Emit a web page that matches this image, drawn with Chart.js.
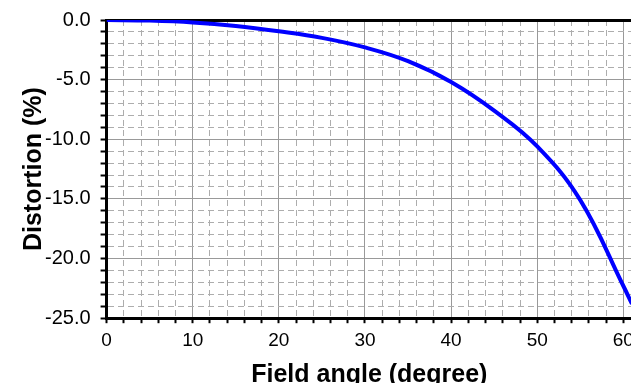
<!DOCTYPE html>
<html>
<head>
<meta charset="utf-8">
<script src="https://cdn.jsdelivr.net/npm/chart.js@4"></script>
<style>
  html, body { margin: 0; padding: 0; background: #fff; overflow: hidden; }
  #wrap { position: absolute; left: 0; top: 0; width: 640px; height: 396px; }
</style>
</head>
<body>
<div id="wrap"><canvas id="distortion_chart" width="640" height="396"></canvas></div>
<script>
    "use strict"

    // field angle (degree) and distortion (%)
    var fieldAngle = [0, 5, 10, 15, 20, 25, 30, 35, 40, 45, 50, 55, 60, 61];
    var distortion = [0, -0.05, -0.2, -0.5, -0.95, -1.5, -2.3, -3.45, -5.2, -7.6, -10.6, -15.1, -22.3, -23.8];

    var xTickLabels = ['0', '10', '20', '30', '40', '50', '60'];
    var yTickLabels = ['0.0', '-5.0', '-10.0', '-15.0', '-20.0', '-25.0'];

    var points = fieldAngle.map(function(a, i){
        return { x: a, y: distortion[i] };
    });

    var isMajorX = function(v){ return xTickLabels.indexOf(String(v)) > -1; };
    var isMajorY = function(v){ return yTickLabels.indexOf(v.toFixed(1)) > -1; };

    var gridColor = function(major){
        return function(ctx){
            if(!ctx.tick) return '#000';
            return major(ctx.tick.value) ? '#999999' : '#adadad';
        };
    };
    var gridDash = function(major){
        return function(ctx){
            if(!ctx.tick) return [];
            return major(ctx.tick.value) ? [] : [6, 4];
        };
    };

    const distortion_chart = document.getElementById("distortion_chart").getContext('2d');
    new Chart(distortion_chart, {
        type: 'line',
        data: {
            datasets: [{
                data: points,
                borderColor: '#0000ff',
                borderWidth: 4,
                pointRadius: 0,
                fill: false,
                tension: 0.4
            }]
        },
        options: {
            responsive: false,
            animation: false,
            layout: { padding: { left: 10, right: 4, top: 3, bottom: 6 } },
            plugins: { legend: { display: false }, tooltip: { enabled: false } },
            scales: {
                x: {
                    type: 'linear',
                    min: 0,
                    max: 61,
                    afterBuildTicks: function(scale){
                        scale.ticks = scale.ticks.filter(function(t){ return t.value % 2 === 0; });
                    },
                    ticks: {
                        stepSize: 2,
                        includeBounds: false,
                        autoSkip: false,
                        maxRotation: 0,
                        padding: 6,
                        color: '#000',
                        font: { family: 'Liberation Sans, Arial', size: 19 },
                        callback: function(v){ return isMajorX(v) ? String(v) : ''; }
                    },
                    grid: {
                        color: gridColor(isMajorX),
                        lineWidth: 1,
                        tickLength: 5,
                        tickColor: '#000',
                        tickWidth: 2
                    },
                    border: { color: '#000', width: 3, dash: gridDash(isMajorX) },
                    title: {
                        display: true,
                        text: 'Field angle (degree)',
                        color: '#000',
                        font: { family: 'Liberation Sans, Arial', size: 25, weight: 'bold' },
                        padding: { top: 2, bottom: 0 }
                    }
                },
                y: {
                    min: -25,
                    max: 0,
                    ticks: {
                        stepSize: 1,
                        autoSkip: false,
                        padding: 10,
                        color: '#000',
                        font: { family: 'Liberation Sans, Arial', size: 20, lineHeight: 1 },
                        callback: function(v){ return isMajorY(v) ? v.toFixed(1) : ''; }
                    },
                    grid: {
                        color: function(ctx){
                            if(ctx.tick && ctx.tick.value === 0) return '#000';
                            return gridColor(isMajorY)(ctx);
                        },
                        lineWidth: function(ctx){
                            return (ctx.tick && ctx.tick.value === 0) ? 3 : 1;
                        },
                        tickLength: 6,
                        tickColor: '#000',
                        tickWidth: 2
                    },
                    border: { color: '#000', width: 3, dash: gridDash(isMajorY) },
                    title: {
                        display: true,
                        text: 'Distortion (%)',
                        color: '#000',
                        font: { family: 'Liberation Sans, Arial', size: 25, weight: 'bold' },
                        padding: { top: 9, bottom: -14 }
                    }
                }
            }
        }
    });
</script>
</body>
</html>
